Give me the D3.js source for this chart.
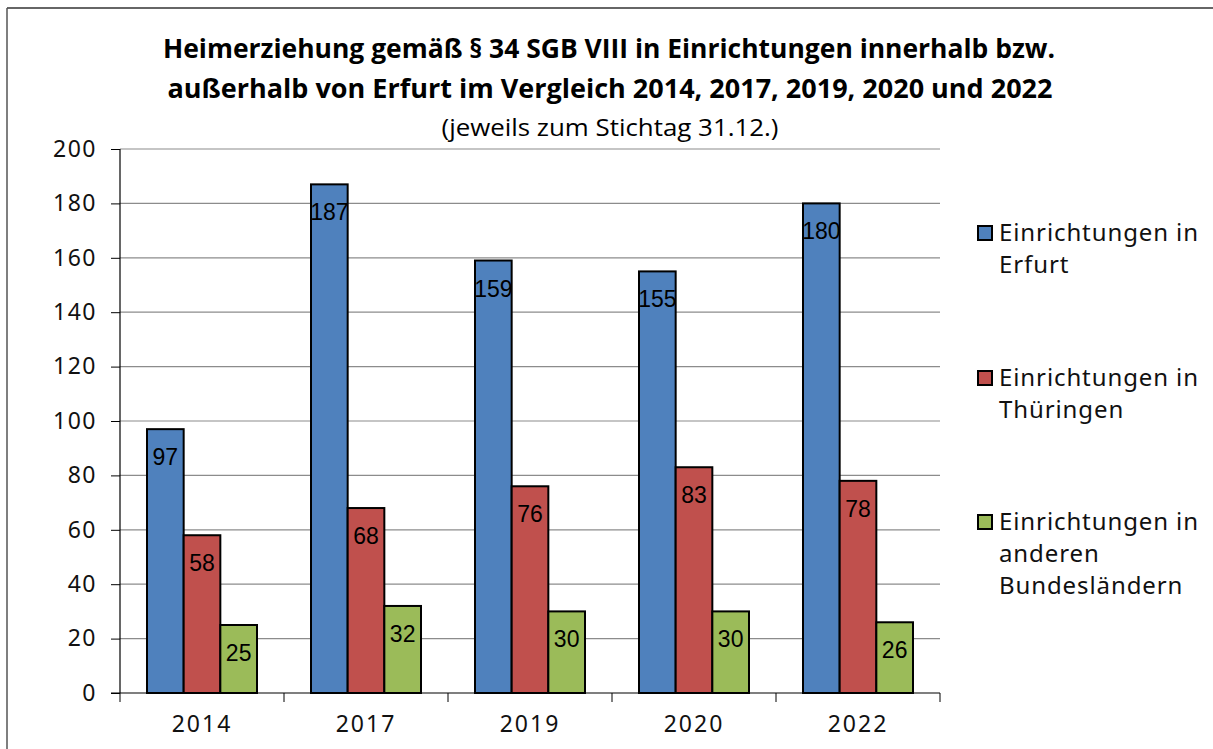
<!DOCTYPE html>
<html>
<head>
<meta charset="utf-8">
<script src="https://cdn.jsdelivr.net/npm/d3@7"></script>
<style>
  body { margin: 0; background: #fff; }
  svg { display: block; }
</style>
</head>
<body>
<script>
var years = ["2014", "2017", "2019", "2020", "2022"];
var seriesNames = ["Einrichtungen in Erfurt", "Einrichtungen in Thüringen", "Einrichtungen in anderen Bundesländern"];
var erfurt = [97, 187, 159, 155, 180];
var thueringen = [58, 68, 76, 83, 78];
var andere = [25, 32, 30, 30, 26];
var yTicks = [0, 20, 40, 60, 80, 100, 120, 140, 160, 180, 200];
var legendLines = [["Einrichtungen in", "Erfurt"], ["Einrichtungen in", "Thüringen"], ["Einrichtungen in", "anderen", "Bundesländern"]];
var colors = ["#4F81BD", "#C0504D", "#9BBB59"];

var width = 1213, height = 749;
var margin = {left: 120, right: 273, top: 149, bottom: 56};

var svg = d3.select("body").append("svg").attr("width", width).attr("height", height);

// outer frame (top and left edges visible)
svg.append("line").attr("x1", 7).attr("x2", width).attr("y1", 8).attr("y2", 8).attr("stroke", "#333").attr("stroke-width", 1.5);
svg.append("line").attr("x1", 7).attr("x2", 7).attr("y1", 8).attr("y2", height).attr("stroke", "#555").attr("stroke-width", 1.5);

// titles
var title = svg.append("g").attr("font-family", "'Open Sans', sans-serif").attr("text-anchor", "middle").attr("fill", "#000");
title.append("text").attr("x", 609).attr("y", 58).attr("font-size", 27).attr("font-weight", "bold")
  .attr("textLength", 892).attr("lengthAdjust", "spacingAndGlyphs")
  .text("Heimerziehung gemäß § 34 SGB VIII in Einrichtungen innerhalb bzw.");
title.append("text").attr("x", 610).attr("y", 98).attr("font-size", 27).attr("font-weight", "bold")
  .attr("textLength", 885).attr("lengthAdjust", "spacingAndGlyphs")
  .text("außerhalb von Erfurt im Vergleich 2014, 2017, 2019, 2020 und 2022");
title.append("text").attr("x", 610).attr("y", 136).attr("font-size", 23)
  .attr("textLength", 337).attr("lengthAdjust", "spacingAndGlyphs")
  .text("(jeweils zum Stichtag 31.12.)");

var plotW = width - margin.left - margin.right;
var plotH = height - margin.top - margin.bottom;

var chart = svg.append("g").attr("transform", "translate(" + margin.left + "," + margin.top + ")");

var y = d3.scaleLinear().domain([0, 200]).range([plotH, 0]);
var x0 = d3.scaleBand().domain(years).range([0, plotW]).padding(0);
var x1 = d3.scaleBand().domain(d3.range(3)).range([27, x0.bandwidth() - 27]).padding(0);

// gridlines
chart.append("g").selectAll("line").data(yTicks.filter(function(t){ return t > 0; })).enter().append("line")
  .attr("x1", 0).attr("x2", plotW)
  .attr("y1", function(d){ return y(d); }).attr("y2", function(d){ return y(d); })
  .attr("stroke", "#8c8c8c").attr("stroke-width", 1.2);

// y axis
var yAxis = d3.axisLeft(y).tickValues(yTicks).tickSize(9).tickPadding(14);
var gy = chart.append("g").call(yAxis);
gy.select(".domain").attr("stroke", "#000").attr("stroke-width", 1.2).attr("d", "M0," + plotH + "V0");
gy.selectAll(".tick line").attr("stroke", "#000");
gy.selectAll("text").attr("font-family", "'Noto Sans', sans-serif").attr("font-size", 23).attr("fill", "#111").attr("letter-spacing", 1.5);

// x axis
var gx = chart.append("g").attr("transform", "translate(0," + plotH + ")");
gx.append("line").attr("x1", -9).attr("x2", plotW).attr("stroke", "#000").attr("stroke-width", 1.2);
gx.selectAll(".sep").data(years.concat(["end"])).enter().append("line").attr("class", "sep")
  .attr("x1", function(d, i){ return i < years.length ? x0(d) : plotW; })
  .attr("x2", function(d, i){ return i < years.length ? x0(d) : plotW; })
  .attr("y1", 0).attr("y2", 9).attr("stroke", "#000");
gx.selectAll(".lbl").data(years).enter().append("text").attr("class", "lbl")
  .attr("x", function(d){ return x0(d) + x0.bandwidth() / 2; })
  .attr("y", 39)
  .attr("text-anchor", "middle")
  .attr("font-family", "'Noto Sans', sans-serif").attr("font-size", 23).attr("letter-spacing", 2).attr("fill", "#111")
  .text(function(d){ return d; });

// bars
var series = [erfurt, thueringen, andere];
var groups = chart.selectAll(".grp").data(years).enter().append("g").attr("class", "grp")
  .attr("transform", function(d){ return "translate(" + x0(d) + ",0)"; });

groups.selectAll("rect").data(function(d, i){ return series.map(function(s, k){ return {k: k, v: s[i]}; }); })
  .enter().append("rect")
  .attr("x", function(d){ return x1(d.k); })
  .attr("width", x1.bandwidth())
  .attr("y", function(d){ return y(d.v); })
  .attr("height", function(d){ return plotH - y(d.v); })
  .attr("fill", function(d){ return colors[d.k]; })
  .attr("stroke", "#000").attr("stroke-width", 2);

groups.selectAll(".val").data(function(d, i){ return series.map(function(s, k){ return {k: k, v: s[i]}; }); })
  .enter().append("text").attr("class", "val")
  .attr("x", function(d){ return x1(d.k) + x1.bandwidth() / 2; })
  .attr("y", function(d){ return y(d.v) + 36; })
  .attr("text-anchor", "middle")
  .attr("font-family", "'Liberation Sans', Arial, sans-serif").attr("font-size", 23).attr("fill", "#000")
  .text(function(d){ return d.v; });

// legend
var legendY = [233, 378, 522];
var legend = svg.append("g").attr("font-family", "'Noto Sans', sans-serif").attr("font-size", 24).attr("fill", "#111");
var items = legend.selectAll(".item").data(legendLines).enter().append("g").attr("class", "item")
  .attr("transform", function(d, i){ return "translate(978," + legendY[i] + ")"; });
items.append("rect").attr("x", 0).attr("y", -7).attr("width", 14).attr("height", 14)
  .attr("fill", function(d, i){ return colors[i]; }).attr("stroke", "#000").attr("stroke-width", 2);
items.selectAll("text").data(function(d){ return d; }).enter().append("text")
  .attr("x", 21).attr("y", function(d, j){ return 8 + j * 32; })
  .attr("letter-spacing", 0.9)
  .text(function(d){ return d; });
</script>
</body>
</html>
